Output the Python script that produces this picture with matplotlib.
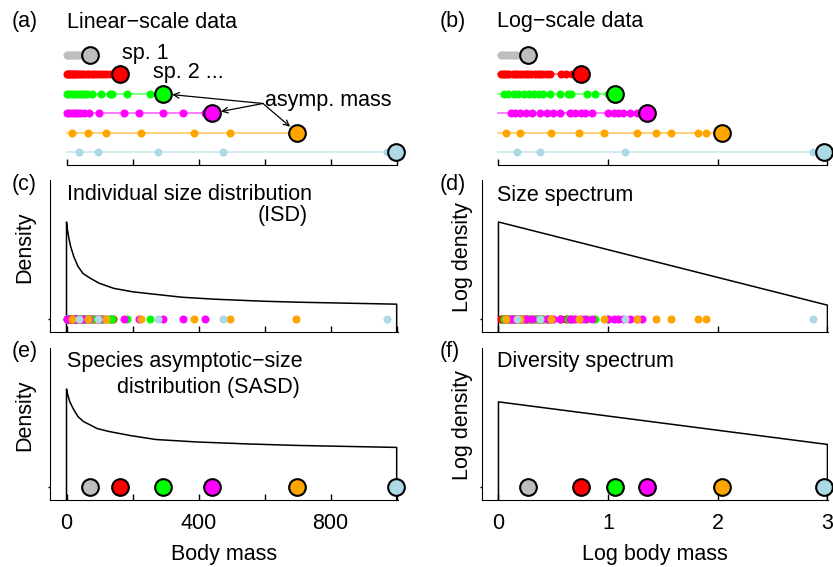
import matplotlib
matplotlib.use('Agg')
import matplotlib.pyplot as plt

plt.rcParams['font.family'] = ['Liberation Sans', 'DejaVu Sans']
plt.rcParams['font.size'] = 15.5

W, H = 833, 567

species_colors = ['#BEBEBE', '#FF0000', '#00FF00', '#FF00FF', '#FFA500', '#ADD8E6']

# individual body masses per species, linear scale
lin_gray = [2, 5, 9, 13, 17, 21, 26, 31, 36, 41, 46, 52]
lin_red = [2, 5, 8, 12, 16, 20, 25, 30, 35, 41, 47, 54, 61, 68, 76, 84, 93, 102, 111, 121, 131, 141]
lin_green = [2, 9, 17, 24, 32, 40, 47, 55, 62, 77, 103, 131, 138, 184, 252]
lin_magenta = [2, 9, 17, 25, 32, 42, 52, 67, 98, 173, 221, 292, 352, 420]
lin_orange = [17, 64, 121, 226, 385, 495, 695]
lin_lightblue = [37, 96, 276, 473, 971]
lin_asymp = [72, 163, 293, 441, 698, 997]

# individual body masses per species, log scale
log_gray = [0.02, 0.04, 0.06, 0.09, 0.11, 0.13, 0.15, 0.17, 0.2]
log_red = [0.02, 0.04, 0.06, 0.08, 0.1, 0.13, 0.15, 0.17, 0.2, 0.22, 0.25, 0.27, 0.3,
           0.33, 0.36, 0.38, 0.41, 0.44, 0.47, 0.57, 0.62, 0.67]
log_green = [0.05, 0.09, 0.14, 0.18, 0.23, 0.28, 0.32, 0.37, 0.41, 0.47, 0.56, 0.63, 0.66,
             0.81, 0.88, 1.0]
log_magenta = [0.11, 0.15, 0.2, 0.25, 0.31, 0.38, 0.44, 0.5, 0.56, 0.65, 0.7, 0.75, 0.79,
               0.85, 1.0, 1.05, 1.09, 1.14, 1.2, 1.26, 1.31]
log_orange = [0.07, 0.2, 0.48, 0.73, 0.96, 1.26, 1.44, 1.57, 1.82, 1.89]
log_lightblue = [0.17, 0.38, 1.15, 2.87]
log_asymp = [0.27, 0.75, 1.06, 1.35, 2.04, 2.97]

lin_individuals = [lin_gray, lin_red, lin_green, lin_magenta, lin_orange, lin_lightblue]
log_individuals = [log_gray, log_red, log_green, log_magenta, log_orange, log_lightblue]

# density curves
isd_x = [0, 3, 7, 12, 22, 35, 50, 73, 100, 143, 200, 254, 350, 450, 595, 700, 850, 1000]
isd_y = [0.98, 0.90, 0.82, 0.74, 0.63, 0.53, 0.46, 0.41, 0.36, 0.31, 0.275, 0.255, 0.22,
         0.20, 0.18, 0.17, 0.16, 0.15]
sasd_x = [0, 4, 10, 22, 35, 52, 70, 93, 130, 193, 270, 395, 550, 700, 850, 1000]
sasd_y = [0.99, 0.93, 0.86, 0.78, 0.71, 0.66, 0.63, 0.59, 0.56, 0.52, 0.48, 0.455, 0.435,
          0.42, 0.41, 0.40]
spec_x = [0, 3]
spec_y = [0.98, 0.14]
div_x = [0, 3]
div_y = [0.86, 0.43]

lin_ticks = [0, 200, 400, 600, 800, 1000]
lin_ticklabels = ['0', '', '400', '', '800', '']
log_ticks = [0, 1, 2, 3]
log_ticklabels = ['0', '1', '2', '3']

LIN_XLIM = (-50, 1004)
LOG_XLIM = (-0.15, 3.005)
YLIM = (-0.131, 1.404)
SMALL = 5.8
BIG = 12


def px_rect(left, top, right, bottom):
    return [left / W, 1 - bottom / H, (right - left) / W, (bottom - top) / H]


def ftext(fig, x, y, s, **kw):
    fig.text(x / W, 1 - y / H, s, va='center', **kw)


def plotRows(ax, individuals, asymp, xlim, ticks):
    ax.set_xlim(*xlim)
    ax.set_ylim(0.33, 6.9)
    n = len(individuals)
    for i in range(n):
        row = n - i
        col = species_colors[i]
        ax.plot([0, asymp[i]], [row, row], color=col, lw=1.2, alpha=0.6, clip_on=False)
        ax.plot(individuals[i], [row] * len(individuals[i]), 'o', color=col, ms=SMALL,
                mew=0, clip_on=False)
        ax.plot(asymp[i], row, 'o', color=col, ms=BIG, mec='black', mew=1.5,
                clip_on=False, zorder=5)
    for s in ['top', 'right', 'left']:
        ax.spines[s].set_visible(False)
    ax.spines['bottom'].set_bounds(ticks[0], ticks[-1])
    ax.set_xticks(ticks)
    ax.set_xticklabels([])
    ax.set_yticks([])
    ax.tick_params(axis='x', direction='in', length=4.3, width=1)


def plotDensity(ax, cx, cy, xlim, ticks, ticklabels):
    ax.set_xlim(*xlim)
    ax.set_ylim(*YLIM)
    low = YLIM[0]
    ax.plot([cx[0]] + cx + [cx[-1]], [low] + cy + [low], color='black', lw=1.1)
    for s in ['top', 'right']:
        ax.spines[s].set_visible(False)
    ax.set_xticks(ticks)
    ax.set_xticklabels(ticklabels)
    ax.set_yticks([0])
    ax.set_yticklabels([])
    ax.tick_params(axis='x', direction='in', length=4.3, width=1, pad=9.5)
    ax.tick_params(axis='y', direction='out', length=1.5, width=1)


fig = plt.figure(figsize=(W / 100, H / 100), dpi=100)

axA = fig.add_axes(px_rect(50, 37.5, 398, 165))
axB = fig.add_axes(px_rect(482, 37.5, 828, 165))
axC = fig.add_axes(px_rect(50, 180, 398, 332))
axD = fig.add_axes(px_rect(482, 180, 828, 332))
axE = fig.add_axes(px_rect(50, 348, 398, 500))
axF = fig.add_axes(px_rect(482, 348, 828, 500))

plotRows(axA, lin_individuals, lin_asymp, LIN_XLIM, lin_ticks)
plotRows(axB, log_individuals, log_asymp, LOG_XLIM, log_ticks)

plotDensity(axC, isd_x, isd_y, LIN_XLIM, lin_ticks, [''] * 6)
plotDensity(axD, spec_x, spec_y, LOG_XLIM, log_ticks, [''] * 4)
plotDensity(axE, sasd_x, sasd_y, LIN_XLIM, lin_ticks, lin_ticklabels)
plotDensity(axF, div_x, div_y, LOG_XLIM, log_ticks, log_ticklabels)

# all individuals along the size axis
for ax, inds in [(axC, lin_individuals), (axD, log_individuals)]:
    for i, vals in enumerate(inds):
        ax.plot(vals, [0] * len(vals), 'o', color=species_colors[i], ms=SMALL, mew=0,
                clip_on=False)

# asymptotic sizes along the size axis
for ax, asymp in [(axE, lin_asymp), (axF, log_asymp)]:
    for i, m in enumerate(asymp):
        ax.plot(m, 0, 'o', color=species_colors[i], ms=BIG, mec='black', mew=1.5,
                clip_on=False, zorder=5)

for ax in [axC, axE]:
    ax.set_ylabel('Density')
    ax.yaxis.set_label_coords(-0.042, 0.56)
for ax in [axD, axF]:
    ax.set_ylabel('Log density')
    ax.yaxis.set_label_coords(-0.027, 0.49)
axE.set_xlabel('Body mass')
axF.set_xlabel('Log body mass')
axE.xaxis.set_label_coords(0.5, -0.29)
axF.xaxis.set_label_coords(0.5, -0.29)

# arrows from the label to the adult sizes
for i in [2, 3, 4]:
    axA.annotate('', xy=(lin_asymp[i], 6 - i), xytext=(595, 3.5),
                 arrowprops=dict(arrowstyle='->', color='black', lw=0.9,
                                 shrinkA=0, shrinkB=6.5, mutation_scale=10))
ftext(fig, 122, 54, 'sp. 1')
ftext(fig, 153, 73, 'sp. 2 ...')
ftext(fig, 265, 101, 'asymp. mass')

ftext(fig, 12, 22, '(a)')
ftext(fig, 67, 22, 'Linear\u2212scale data')
ftext(fig, 440, 22, '(b)')
ftext(fig, 497, 22, 'Log\u2212scale data')
ftext(fig, 12, 185, '(c)')
ftext(fig, 67, 195, 'Individual size distribution')
ftext(fig, 308, 216, '(ISD)', ha='right')
ftext(fig, 440, 185, '(d)')
ftext(fig, 497, 195, 'Size spectrum')
ftext(fig, 12, 352, '(e)')
ftext(fig, 67, 362, 'Species asymptotic\u2212size')
ftext(fig, 117, 388, 'distribution (SASD)')
ftext(fig, 440, 352, '(f)')
ftext(fig, 497, 362, 'Diversity spectrum')

fig.savefig('out.png', dpi=100)
